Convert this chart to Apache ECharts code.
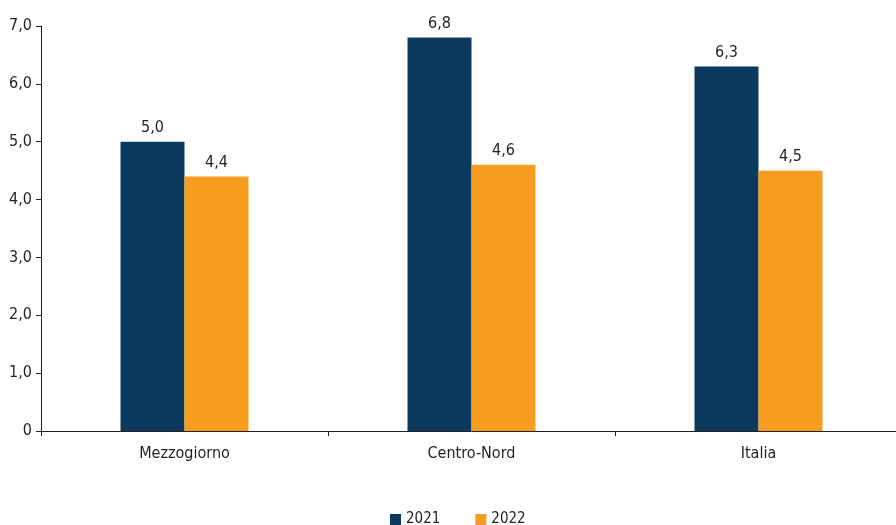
<!DOCTYPE html>
<html><head><meta charset="utf-8">
<script src="https://cdn.jsdelivr.net/npm/echarts@6/dist/echarts.min.js"></script>
<style>html,body{margin:0;padding:0;background:#fff;overflow:hidden;width:896px;height:525px}#c{width:910px;height:525px}</style>
</head><body><div id="c"></div>
<script>
const categories = ['Mezzogiorno', 'Centro-Nord', 'Italia'];
const series2021 = [5.0, 6.8, 6.3];
const series2022 = [4.4, 4.6, 4.5];
const seriesNames = ['2021', '2022'];
const yTicks = [0, 1, 2, 3, 4, 5, 6, 7];

const FONT = '"DejaVu Sans Condensed", "DejaVu Sans", sans-serif';
const TXT = '#231f20';
const fmt = v => v === 0 ? '0' : v.toFixed(1).replace('.', ',');
const chart = echarts.init(document.getElementById('c'), null, {renderer: 'canvas'});
const labelCfg = {show: true, position: 'top', distance: 6, color: TXT, fontSize: 16, fontFamily: FONT,
  formatter: p => fmt(p.value)};
chart.setOption({
  animation: false,
  textStyle: {fontFamily: FONT},
  grid: {left: 41, top: 26, width: 861, height: 405, containLabel: false},
  legend: {top: 512, left: 390, padding: 0, itemWidth: 11, itemHeight: 11, itemGap: 35, icon: 'rect',
    textStyle: {fontSize: 15, color: TXT, fontFamily: FONT},
    data: seriesNames},
  xAxis: {type: 'category', data: categories,
    axisLine: {lineStyle: {color: TXT, width: 1}},
    axisTick: {show: true, length: 5, lineStyle: {color: TXT}},
    axisLabel: {color: TXT, fontSize: 16, fontFamily: FONT, margin: 15}},
  yAxis: {type: 'value', min: yTicks[0], max: yTicks[yTicks.length - 1], interval: 1,
    splitLine: {show: false},
    axisLine: {show: true, lineStyle: {color: TXT, width: 1}},
    axisTick: {show: true, length: 5, lineStyle: {color: TXT}},
    axisLabel: {color: TXT, fontSize: 16, fontFamily: FONT, margin: 9, formatter: fmt}},
  series: [
    {name: seriesNames[0], type: 'bar', data: series2021, barWidth: 64, barGap: '0%',
      itemStyle: {color: '#0b3a5e'}, label: labelCfg},
    {name: seriesNames[1], type: 'bar', data: series2022, barWidth: 64, barGap: '0%',
      itemStyle: {color: '#f69d1f'}, label: labelCfg}
  ]
});
</script></body></html>
